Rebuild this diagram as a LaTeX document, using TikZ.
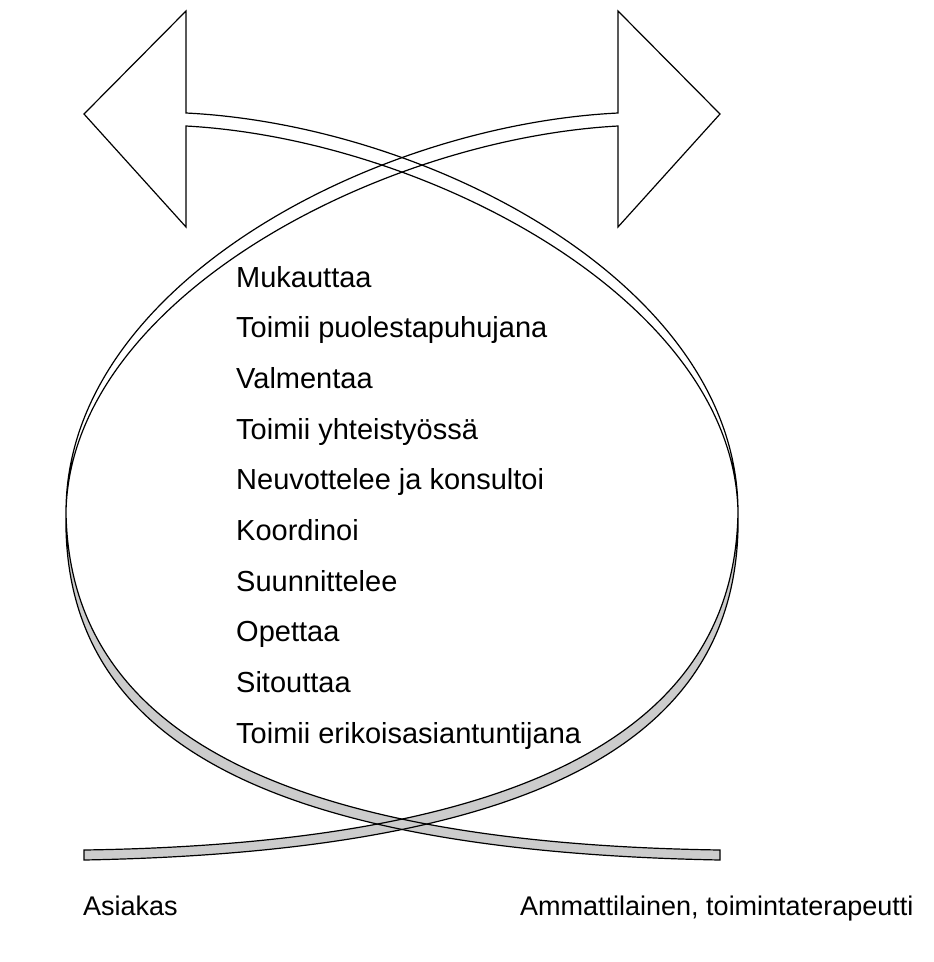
\documentclass[tikz,border=0pt]{standalone}
\usepackage{fontspec}
\setmainfont{Liberation Sans}
\usetikzlibrary{positioning}

\definecolor{underside}{gray}{0.8}
\newcommand{\rolefont}{\fontsize{29}{34}\selectfont}
\newcommand{\sidefont}{\fontsize{27}{33}\selectfont}

% curved arrow, left half: white top face, grey underside
\newcommand{\ribbonfill}{%
  \fill[white] (186,-113) -- (186,-11) -- (84,-114) -- (186,-227) -- (186,-126)
    .. controls (425,-139) and (734,-300) .. (738,-512)
    .. controls (738,-285) and (430,-125) .. (186,-113) -- cycle;
  \fill[underside] (738,-512) .. controls (735,-713) and (557,-843) .. (84,-850)
    -- (84,-860) .. controls (563,-851) and (743,-727) .. (738,-512) -- cycle;}
\newcommand{\ribbonedge}{%
  \draw[ribbon] (186,-113) -- (186,-11) -- (84,-114) -- (186,-227) -- (186,-126)
    .. controls (425,-139) and (734,-300) .. (738,-512)
    .. controls (735,-713) and (557,-843) .. (84,-850)
    -- (84,-860) .. controls (563,-851) and (743,-727) .. (738,-512)
    .. controls (738,-285) and (430,-125) .. (186,-113) -- cycle;}

\begin{document}
\begin{tikzpicture}[x=1pt,y=1pt,node distance=50.67pt,on grid,
    role/.style={font=\rolefont,anchor=west,inner sep=0pt,text height=22pt,text depth=6pt},
    side/.style={font=\sidefont,anchor=base west,inner sep=0pt},
    ribbon/.style={line width=1.2pt,line join=miter}]
    \useasboundingbox (0,0) rectangle (934,-962);

    % the two arrows, second one mirrored
    \ribbonfill
    \begin{scope}[xshift=804pt,xscale=-1]
        \ribbonfill
    \end{scope}
    \ribbonedge
    \begin{scope}[xshift=804pt,xscale=-1]
        \ribbonedge
    \end{scope}

    \node[role,anchor=base west] (mukauttaa) at (236,-287) {Mukauttaa};
    \node[role] (puolesta) [below=of mukauttaa.west,anchor=west] {Toimii puolestapuhujana};
    \node[role] (valmentaa) [below=of puolesta.west,anchor=west] {Valmentaa};
    \node[role] (yhteistyo) [below=of valmentaa.west,anchor=west] {Toimii yhteistyössä};
    \node[role] (neuvottelee) [below=of yhteistyo.west,anchor=west] {Neuvottelee ja konsultoi};
    \node[role] (koordinoi) [below=of neuvottelee.west,anchor=west] {Koordinoi};
    \node[role] (suunnittelee) [below=of koordinoi.west,anchor=west] {Suunnittelee};
    \node[role] (opettaa) [below=of suunnittelee.west,anchor=west] {Opettaa};
    \node[role] (sitouttaa) [below=of opettaa.west,anchor=west] {Sitouttaa};
    \node[role] (erikois) [below=of sitouttaa.west,anchor=west] {Toimii erikoisasiantuntijana};

    \node[side] (asiakas) at (83,-915) {Asiakas};
    \node[side] (ammattilainen) at (520,-915) {Ammattilainen, toimintaterapeutti};
\end{tikzpicture}
\end{document}
